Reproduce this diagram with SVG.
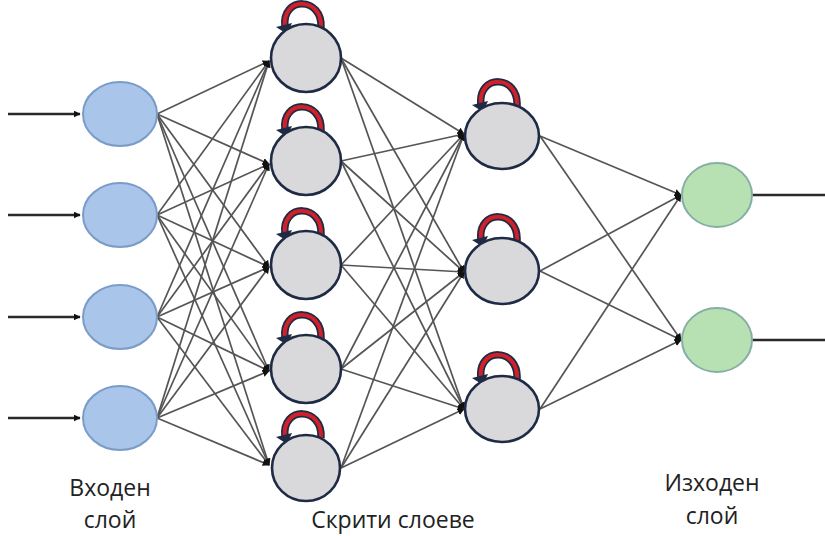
<svg xmlns="http://www.w3.org/2000/svg" width="825" height="536" viewBox="0 0 825 536">
  <defs>
    <marker id="tip" viewBox="0 0 10 10" refX="9" refY="5" markerWidth="7" markerHeight="7" markerUnits="userSpaceOnUse" orient="auto">
      <path d="M0,0 L10,5 L0,10 z" fill="#111"/>
    </marker>
    <style>
      .edge { stroke: #555; stroke-width: 1.7; fill: none; marker-end: url(#tip); }
      .io { stroke: #2a2a2a; stroke-width: 2.6; fill: none; }
      .in { fill: #a9c5ea; stroke: #7c9cc8; stroke-width: 2; }
      .hid { fill: #d9d9dc; stroke: #1f2a44; stroke-width: 2.6; }
      .out { fill: #b7e1b2; stroke: #86aea4; stroke-width: 2; }
      .loopOuter { fill: none; stroke: #1f2a44; stroke-width: 7.5; }
      .loopInner { fill: none; stroke: #d0202a; stroke-width: 4; }
      .loopHead { fill: #1f2a44; }
      .lbl { font-family: "Open Sans", "Liberation Sans", sans-serif; font-size: 23px; fill: #222; text-anchor: middle; }
    </style>
    <!-- self-connection drawn above each recurrent unit -->
    <g id="selfLoop">
      <path class="loopOuter" d="M15,-30 C17,-62 -25,-62 -21,-31"/>
      <path class="loopInner" d="M15,-30 C17,-62 -25,-62 -21,-31"/>
      <path class="loopHead" d="M-30,-31 L-14,-35 L-19,-24 z"/>
    </g>
  </defs>

  <!-- connectors -->
  <g id="connectors">
    <!-- external inputs -->
    <line class="io" x1="8" y1="114" x2="80" y2="114" marker-end="url(#tip)"/>
    <line class="io" x1="8" y1="215" x2="80" y2="215" marker-end="url(#tip)"/>
    <line class="io" x1="8" y1="317" x2="80" y2="317" marker-end="url(#tip)"/>
    <line class="io" x1="8" y1="418" x2="80" y2="418" marker-end="url(#tip)"/>
    <!-- external outputs -->
    <line class="io" x1="752" y1="195" x2="825" y2="195"/>
    <line class="io" x1="752" y1="340" x2="825" y2="340"/>

    <!-- input layer to first hidden layer -->
    <g>
      <line class="edge" x1="157" y1="114" x2="269" y2="61"/>
      <line class="edge" x1="157" y1="114" x2="269" y2="164"/>
      <line class="edge" x1="157" y1="114" x2="269" y2="267"/>
      <line class="edge" x1="157" y1="114" x2="269" y2="371"/>
      <line class="edge" x1="157" y1="114" x2="269" y2="465"/>
      <line class="edge" x1="157" y1="215" x2="269" y2="61"/>
      <line class="edge" x1="157" y1="215" x2="269" y2="164"/>
      <line class="edge" x1="157" y1="215" x2="269" y2="267"/>
      <line class="edge" x1="157" y1="215" x2="269" y2="371"/>
      <line class="edge" x1="157" y1="215" x2="269" y2="465"/>
      <line class="edge" x1="157" y1="317" x2="269" y2="61"/>
      <line class="edge" x1="157" y1="317" x2="269" y2="164"/>
      <line class="edge" x1="157" y1="317" x2="269" y2="267"/>
      <line class="edge" x1="157" y1="317" x2="269" y2="371"/>
      <line class="edge" x1="157" y1="317" x2="269" y2="465"/>
      <line class="edge" x1="157" y1="418" x2="269" y2="61"/>
      <line class="edge" x1="157" y1="418" x2="269" y2="164"/>
      <line class="edge" x1="157" y1="418" x2="269" y2="267"/>
      <line class="edge" x1="157" y1="418" x2="269" y2="371"/>
      <line class="edge" x1="157" y1="418" x2="269" y2="465"/>
    </g>

    <!-- first hidden layer to second hidden layer -->
    <g>
      <line class="edge" x1="341" y1="58" x2="464" y2="134"/>
      <line class="edge" x1="341" y1="58" x2="464" y2="272"/>
      <line class="edge" x1="341" y1="58" x2="464" y2="409"/>
      <line class="edge" x1="341" y1="161" x2="464" y2="134"/>
      <line class="edge" x1="341" y1="161" x2="464" y2="272"/>
      <line class="edge" x1="341" y1="161" x2="464" y2="409"/>
      <line class="edge" x1="341" y1="265" x2="464" y2="134"/>
      <line class="edge" x1="341" y1="265" x2="464" y2="272"/>
      <line class="edge" x1="341" y1="265" x2="464" y2="409"/>
      <line class="edge" x1="341" y1="369" x2="464" y2="134"/>
      <line class="edge" x1="341" y1="369" x2="464" y2="272"/>
      <line class="edge" x1="341" y1="369" x2="464" y2="409"/>
      <line class="edge" x1="341" y1="468" x2="464" y2="134"/>
      <line class="edge" x1="341" y1="468" x2="464" y2="272"/>
      <line class="edge" x1="341" y1="468" x2="464" y2="409"/>
    </g>

    <!-- second hidden layer to output layer -->
    <g>
      <line class="edge" x1="540" y1="136" x2="681" y2="195"/>
      <line class="edge" x1="540" y1="136" x2="681" y2="340"/>
      <line class="edge" x1="540" y1="271" x2="681" y2="195"/>
      <line class="edge" x1="540" y1="271" x2="681" y2="340"/>
      <line class="edge" x1="540" y1="409" x2="681" y2="195"/>
      <line class="edge" x1="540" y1="409" x2="681" y2="340"/>
    </g>
  </g>

  <!-- input layer -->
  <g id="in1"><ellipse class="in" cx="120" cy="114" rx="37" ry="32"/></g>
  <g id="in2"><ellipse class="in" cx="120" cy="215" rx="37" ry="32"/></g>
  <g id="in3"><ellipse class="in" cx="120" cy="317" rx="37" ry="32"/></g>
  <g id="in4"><ellipse class="in" cx="120" cy="418" rx="37" ry="32"/></g>

  <!-- first hidden layer (recurrent) -->
  <g id="h1a" transform="translate(306,58)">
    <use href="#selfLoop"/>
    <ellipse class="hid" cx="0" cy="0" rx="35" ry="34"/>
  </g>
  <g id="h1b" transform="translate(306,161)">
    <use href="#selfLoop"/>
    <ellipse class="hid" cx="0" cy="0" rx="35" ry="34"/>
  </g>
  <g id="h1c" transform="translate(306,265)">
    <use href="#selfLoop"/>
    <ellipse class="hid" cx="0" cy="0" rx="35" ry="34"/>
  </g>
  <g id="h1d" transform="translate(306,369)">
    <use href="#selfLoop"/>
    <ellipse class="hid" cx="0" cy="0" rx="35" ry="34"/>
  </g>
  <g id="h1e" transform="translate(306,468)">
    <use href="#selfLoop"/>
    <ellipse class="hid" cx="0" cy="0" rx="34" ry="33"/>
  </g>

  <!-- second hidden layer (recurrent) -->
  <g id="h2a" transform="translate(502,136)">
    <use href="#selfLoop"/>
    <ellipse class="hid" cx="0" cy="0" rx="37" ry="33"/>
  </g>
  <g id="h2b" transform="translate(502,271)">
    <use href="#selfLoop"/>
    <ellipse class="hid" cx="0" cy="0" rx="37" ry="33"/>
  </g>
  <g id="h2c" transform="translate(502,409)">
    <use href="#selfLoop"/>
    <ellipse class="hid" cx="0" cy="0" rx="37" ry="33"/>
  </g>

  <!-- output layer -->
  <g id="out1"><ellipse class="out" cx="717" cy="195" rx="35" ry="32"/></g>
  <g id="out2"><ellipse class="out" cx="717" cy="340" rx="35" ry="32"/></g>

  <!-- layer captions -->
  <g id="captions">
    <text class="lbl" x="110" y="496">Входен</text>
    <text class="lbl" x="110" y="528">слой</text>
    <text class="lbl" x="393" y="528">Скрити слоеве</text>
    <text class="lbl" x="712" y="491">Изходен</text>
    <text class="lbl" x="712" y="524">слой</text>
  </g>
</svg>
